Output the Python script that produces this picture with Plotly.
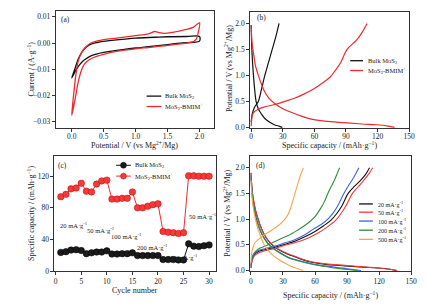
import plotly.graph_objects as go

# ---------------- Panel (a): CV curves ----------------
cv_bulk_v = [0.0, 0.05, 0.1, 0.15, 0.2, 0.25, 0.3, 0.4, 0.5, 0.7, 1.0, 1.3, 1.5, 1.8, 2.0,
             2.0, 1.9, 1.7, 1.5, 1.2, 1.0, 0.8, 0.6, 0.5, 0.4, 0.3, 0.2, 0.15, 0.1, 0.05, 0.0]
cv_bulk_i = [-0.0133, -0.0098, -0.0062, -0.0038, -0.0022, -0.0011, -0.0004, 0.0002, 0.0006, 0.0012,
             0.0019, 0.0022, 0.0024, 0.0025, 0.0025,
             0.0007, 0.0003, 0.0000, -0.0006, -0.0014, -0.0019, -0.0025, -0.0032, -0.0036, -0.0041,
             -0.0049, -0.0064, -0.0075, -0.0090, -0.0110, -0.0133]
cv_bmim_v = [0.0, 0.02, 0.05, 0.08, 0.1, 0.15, 0.2, 0.25, 0.3, 0.4, 0.5, 0.7, 1.0, 1.2, 1.3, 1.35,
             1.45, 1.6, 1.8, 1.9, 2.0,
             1.98, 1.95, 1.9, 1.8, 1.6, 1.4, 1.2, 1.0, 0.8, 0.6, 0.5, 0.4, 0.3, 0.25, 0.2, 0.15,
             0.1, 0.07, 0.04, 0.0]
cv_bmim_i = [-0.0276, -0.0220, -0.0150, -0.0095, -0.0070, -0.0038, -0.0020, -0.0008, 0.0000,
             0.0008, 0.0013, 0.0019, 0.0028, 0.0035, 0.0044, 0.0041, 0.0037, 0.0042, 0.0052,
             0.0060, 0.0077,
             0.0040, 0.0015, 0.0005, 0.0000, -0.0006, -0.0012, -0.0017, -0.0022, -0.0028,
             -0.0037, -0.0043, -0.0050, -0.0060, -0.0068, -0.0080, -0.0105, -0.0150, -0.0190,
             -0.0230, -0.0276]

# ---------------- Panel (b): GCD curves ----------------
b_bulk_dis_c = [0, 0.5, 1.2, 2.2, 3.5, 4.7, 6.8, 10, 13, 17.7, 22, 27, 29.6]
b_bulk_dis_v = [1.97, 1.6, 1.3, 1.0, 0.7, 0.5, 0.36, 0.25, 0.17, 0.1, 0.05, 0.02, 0.0]
b_bulk_chg_c = [0, 1, 3, 6.8, 10, 13, 16.5, 20, 23.5, 26.5]
b_bulk_chg_v = [0.1, 0.25, 0.38, 0.5, 0.75, 1.0, 1.25, 1.5, 1.75, 2.0]
b_bmim_dis_c = [0, 1, 2.2, 4, 6.8, 10, 13, 17, 22.4, 30, 38, 47, 57, 70, 88, 105, 119, 130, 136]
b_bmim_dis_v = [1.97, 1.6, 1.44, 1.2, 1.0, 0.82, 0.68, 0.56, 0.46, 0.36, 0.29, 0.22, 0.16,
                0.12, 0.09, 0.065, 0.05, 0.025, 0.0]
b_bmim_chg_c = [0, 0.5, 1.2, 3, 6.8, 12, 22.4, 32, 41, 50, 60, 68, 75, 80, 85, 91, 100, 105, 110]
b_bmim_chg_v = [0.02, 0.15, 0.24, 0.3, 0.35, 0.39, 0.44, 0.5, 0.56, 0.64, 0.75, 0.86, 0.97,
                1.1, 1.25, 1.5, 1.68, 1.82, 2.0]

# ---------------- Panel (c): rate capability ----------------
cycles = list(range(1, 31))
rate_bulk = [23.5, 24.5, 26.5, 27, 26, 22, 23, 24, 24, 25.5, 21.5, 21.5, 22, 22, 23,
             19.5, 19.5, 19.5, 19.5, 19.5, 14.5, 14.5, 14.5, 14, 14, 34.5, 31.5, 31, 32, 33]
rate_bmim = [94, 97, 104, 105, 111, 101, 100, 110, 114, 115, 91, 91, 92, 92, 100,
             80, 80, 82, 84, 85, 50, 49, 48.5, 47.5, 48.5, 120.5, 120.5, 120, 120, 120]
rate_labels = ["20 mA·g<sup>-1</sup>", "50 mA·g<sup>-1</sup>", "100 mA·g<sup>-1</sup>",
               "200 mA·g<sup>-1</sup>", "500 mA·g<sup>-1</sup>", "50 mA·g<sup>-1</sup>"]

# ---------------- Panel (d): GCD at various rates ----------------
d_names = ["20 mA·g<sup>-1</sup>", "50 mA·g<sup>-1</sup>", "100 mA·g<sup>-1</sup>",
           "200 mA·g<sup>-1</sup>", "500 mA·g<sup>-1</sup>"]
d_colors = ["#111111", "#ee3a3f", "#3567d6", "#2f8a3c", "#f7a54a"]
d_dis_c = [
    [0, 1, 2, 4, 7, 10, 13, 17, 22, 30, 38, 47, 57, 70, 88, 105, 119, 130, 136],
    [0, 1, 2, 4, 7, 10, 13, 17, 22, 30, 38, 47, 57, 70, 88, 105, 119, 130, 137],
    [0, 1, 2, 4, 6, 9, 12, 16, 20, 27, 35, 44, 55, 66, 80, 90, 97, 103],
    [0, 1, 2, 4, 6, 9, 12, 16, 20, 27, 35, 44, 55, 66, 78, 88, 95, 100],
    [0, 1, 2, 3.7, 6, 9, 13, 18, 25.5, 32, 38, 44, 49],
]
d_dis_v = [
    [1.9, 1.6, 1.42, 1.2, 0.98, 0.81, 0.68, 0.56, 0.46, 0.36, 0.29, 0.22, 0.16, 0.12, 0.09,
     0.065, 0.05, 0.025, 0.0],
    [1.9, 1.6, 1.42, 1.2, 0.98, 0.81, 0.68, 0.56, 0.47, 0.37, 0.3, 0.23, 0.17, 0.13, 0.1,
     0.07, 0.05, 0.025, 0.0],
    [1.85, 1.55, 1.35, 1.12, 0.95, 0.78, 0.65, 0.53, 0.45, 0.35, 0.26, 0.2, 0.14, 0.1, 0.06,
     0.035, 0.015, 0.0],
    [1.8, 1.5, 1.33, 1.1, 0.93, 0.76, 0.64, 0.52, 0.44, 0.34, 0.25, 0.19, 0.13, 0.09, 0.05,
     0.025, 0.01, 0.0],
    [1.75, 1.45, 1.25, 1.05, 0.85, 0.67, 0.48, 0.35, 0.22, 0.14, 0.08, 0.035, 0.0],
]
d_chg_c = [
    [0, 1, 3, 7, 14, 22, 32, 41, 50, 60, 68, 75, 80, 85, 91, 97, 102, 107, 111],
    [0, 1, 3, 7, 14, 22, 32, 41, 52, 62, 71, 79, 84, 89, 95, 100, 105, 110, 114],
    [0, 1, 3, 7, 14, 22, 32, 41, 50, 58, 66, 72, 77, 81, 87, 91, 95, 98, 101],
    [0, 1, 3, 7, 14, 20, 26, 35, 44, 52, 60, 65, 69, 72, 75, 78, 81, 83],
    [0, 0.5, 1.5, 3.7, 8, 13, 19, 26, 31, 35, 38, 41, 43.5, 46, 49],
]
d_chg_v = [
    [0.05, 0.2, 0.3, 0.37, 0.41, 0.45, 0.51, 0.57, 0.65, 0.76, 0.87, 0.98, 1.1, 1.25, 1.5,
     1.64, 1.74, 1.86, 2.0],
    [0.05, 0.18, 0.28, 0.34, 0.39, 0.43, 0.49, 0.54, 0.62, 0.72, 0.84, 0.97, 1.1, 1.26, 1.5,
     1.62, 1.74, 1.87, 2.0],
    [0.08, 0.22, 0.32, 0.39, 0.43, 0.47, 0.54, 0.6, 0.69, 0.8, 0.9, 1.0, 1.12, 1.25, 1.5,
     1.64, 1.77, 1.88, 2.0],
    [0.1, 0.25, 0.34, 0.42, 0.48, 0.54, 0.6, 0.68, 0.79, 0.9, 1.05, 1.2, 1.35, 1.5, 1.63,
     1.75, 1.9, 2.0],
    [0.15, 0.3, 0.42, 0.54, 0.62, 0.7, 0.78, 0.88, 0.98, 1.1, 1.27, 1.48, 1.66, 1.83, 2.0],
]

W, H = 430, 308
FONT = "Liberation Serif"
BLACK = "#111111"
RED = "#ee2a2f"
TXT = "#222222"


def px(x):
    return x / W


def py(y):
    return 1 - y / H


fig = go.Figure()

# (a)
fig.add_trace(go.Scatter(x=cv_bulk_v, y=cv_bulk_i, mode="lines", line=dict(color=BLACK, width=1.3),
                         line_shape="spline", name="Bulk MoS<sub>2</sub>", xaxis="x", yaxis="y",
                         showlegend=False))
fig.add_trace(go.Scatter(x=cv_bmim_v, y=cv_bmim_i, mode="lines", line=dict(color=RED, width=1.3),
                         line_shape="spline", name="MoS<sub>2</sub>-BMIM<sup>+</sup>", xaxis="x",
                         yaxis="y", showlegend=False))
# (b)
for cx, vy, col in [(b_bulk_dis_c, b_bulk_dis_v, BLACK), (b_bulk_chg_c, b_bulk_chg_v, BLACK),
                    (b_bmim_dis_c, b_bmim_dis_v, RED), (b_bmim_chg_c, b_bmim_chg_v, RED)]:
    fig.add_trace(go.Scatter(x=cx, y=vy, mode="lines", line=dict(color=col, width=1.2),
                             line_shape="spline", xaxis="x2", yaxis="y2", showlegend=False))
# (c)
fig.add_trace(go.Scatter(x=cycles, y=rate_bulk, mode="lines+markers",
                         line=dict(color=BLACK, width=1),
                         marker=dict(size=6.5, color="#1a1a1a", line=dict(color="#000", width=0.5)),
                         xaxis="x3", yaxis="y3", showlegend=False))
fig.add_trace(go.Scatter(x=cycles, y=rate_bmim, mode="lines+markers",
                         line=dict(color=RED, width=1),
                         marker=dict(size=6.5, color="#f23a3a", line=dict(color="#c00", width=0.5)),
                         xaxis="x3", yaxis="y3", showlegend=False))
# (d)
for i in range(5):
    for cx, vy in [(d_dis_c[i], d_dis_v[i]), (d_chg_c[i], d_chg_v[i])]:
        fig.add_trace(go.Scatter(x=cx, y=vy, mode="lines", line=dict(color=d_colors[i], width=1.1),
                                 line_shape="spline", xaxis="x4", yaxis="y4", showlegend=False))

tickfont = dict(family=FONT, size=7.5, color=TXT)


def ax(domain, rng, anchor, dtick=None, tickvals=None, tickformat=None, standoff=0):
    d = dict(domain=domain, range=rng, anchor=anchor, showline=True, mirror=True,
             linecolor="#333", linewidth=1, ticks="outside", ticklen=3, tickwidth=1,
             tickcolor="#333", showgrid=False, zeroline=False, tickfont=tickfont,
             ticklabelstandoff=standoff)
    if dtick is not None:
        d["dtick"] = dtick
    if tickvals is not None:
        d["tickvals"] = tickvals
    if tickformat is not None:
        d["tickformat"] = tickformat
    return d


fig.update_layout(
    width=W, height=H, margin=dict(l=0, r=0, t=0, b=0),
    paper_bgcolor="white", plot_bgcolor="white",
    xaxis=ax([px(55.7), px(216.7)], [-0.25, 2.23], "y",
             tickvals=[0, 0.5, 1.0, 1.5, 2.0], tickformat=".1f", standoff=-2),
    yaxis=ax([py(130), py(11)], [-0.0324, 0.0123], "x",
             tickvals=[-0.03, -0.02, -0.01, 0, 0.01], tickformat=".2f"),
    xaxis2=ax([px(253.3), px(415)], [-0.9, 150], "y2", dtick=30, standoff=-2),
    yaxis2=ax([py(130), py(11.7)], [-0.01, 2.23], "x2", dtick=0.5, tickformat=".1f"),
    xaxis3=ax([px(54.3), px(218.3)], [-0.25, 31.3], "y3", dtick=5),
    yaxis3=ax([py(275.5), py(159)], [0, 145], "x3", dtick=40),
    xaxis4=ax([px(253.5), px(417)], [-0.5, 150], "y4", dtick=30),
    yaxis4=ax([py(275.5), py(159)], [-0.01, 2.22], "x4", dtick=0.5, tickformat=".1f"),
)

annots = []
shapes = []


def label(x, y, text, size=7.5, xanchor="left", angle=0):
    annots.append(dict(x=px(x), y=py(y), xref="paper", yref="paper", text=text, showarrow=False,
                       xanchor=xanchor, yanchor="middle", textangle=angle,
                       font=dict(family=FONT, size=size, color=TXT)))


def leg_line(x0, x1, y, color, width=1.3):
    shapes.append(dict(type="line", xref="paper", yref="paper", x0=px(x0), x1=px(x1),
                       y0=py(y), y1=py(y), line=dict(color=color, width=width)))


def leg_dot(xc, y, color, lc):
    r = 3
    shapes.append(dict(type="circle", xref="paper", yref="paper", x0=px(xc - r), x1=px(xc + r),
                       y0=py(y + r), y1=py(y - r), fillcolor=color, line=dict(color=lc, width=0.5)))


pot_title = "Potential / V (vs Mg<sup>2+</sup>/Mg)"
cap_title = "Specific capacity / (mAh·g<sup>−1</sup>)"

# axis titles
label(136, 147.5, pot_title, size=8, xanchor="center")
label(30, 70, "Current / (A·g<sup>−1</sup>)", size=8, xanchor="center", angle=-90)
label(334, 147.5, cap_title, size=8, xanchor="center")
label(231, 70, pot_title, size=8, xanchor="center", angle=-90)
label(136, 295, "Cycle number", size=8, xanchor="center")
label(31, 217, cap_title, size=8, xanchor="center", angle=-90)
label(335, 300, cap_title, size=8, xanchor="center")
label(230, 217, pot_title, size=8, xanchor="center", angle=-90)

# panel labels
label(59, 19.5, "(a)")
label(258, 18, "(b)")
label(56, 168.5, "(c)")
label(257, 168, "(d)")

bulk_name = "Bulk MoS<sub>2</sub>"
bmim_name = "MoS<sub>2</sub>-BMIM<sup>+</sup>"

# legend a
leg_line(148, 163, 97.7, BLACK)
label(165, 97.7, bulk_name, size=6.5)
leg_line(148, 163, 108.3, RED)
label(165, 108.3, bmim_name, size=6.5)
# legend b
leg_line(355, 368, 61.7, BLACK)
label(371, 61.7, bulk_name, size=6.5)
leg_line(355, 368, 71.7, RED)
label(371, 71.7, bmim_name, size=6.5)
# legend c
leg_line(117, 132, 168, BLACK, 1)
leg_dot(124.5, 168, "#1a1a1a", "#000")
label(134, 168, bulk_name, size=6.5)
leg_line(117, 132, 179, RED, 1)
leg_dot(124.5, 179, "#f23a3a", "#c00")
label(134, 179, bmim_name, size=6.5)
# legend d
for i, yy in enumerate([207.3, 215.7, 224.7, 234, 243.3]):
    leg_line(364, 378, yy, d_colors[i], 1.3)
    label(381, yy, d_names[i], size=6)

# rate annotations in (c)
for (x, y), t in zip([(58, 229), (85, 233.5), (110, 240), (136, 251.5), (166.5, 261.5), (189, 220)],
                     rate_labels):
    label(x, y, t, size=6.5)

fig.update_layout(annotations=annots, shapes=shapes)
fig.write_html("out.html", config={"displayModeBar": False},
               post_script="document.body.style.margin='0';")
